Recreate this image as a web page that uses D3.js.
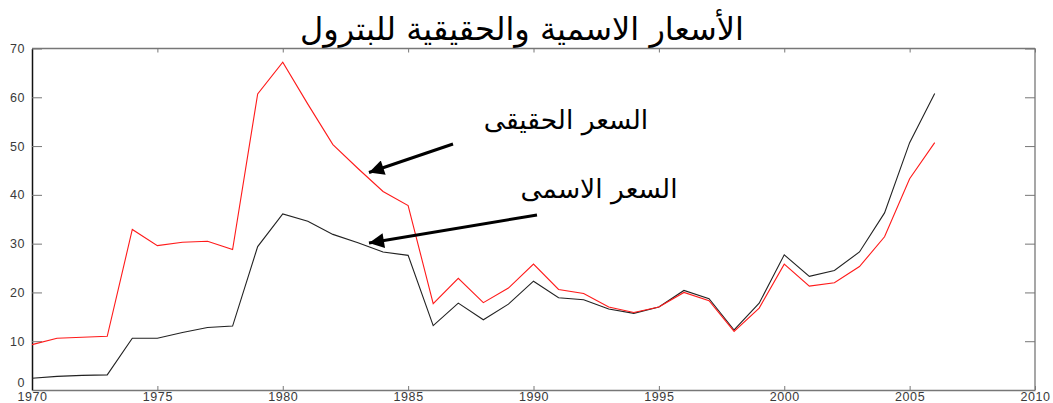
<!DOCTYPE html>
<html>
<head>
<meta charset="utf-8">
<script src="https://cdn.jsdelivr.net/npm/d3@7/dist/d3.min.js"></script>
<style>
html,body{margin:0;padding:0;background:#fff;}
svg{display:block;}
</style>
</head>
<body>
<svg id="chart" width="1053" height="403"></svg>
<script>
const title = "الأسعار الاسمية والحقيقية للبترول";
const years = [1970,1971,1972,1973,1974,1975,1976,1977,1978,1979,1980,1981,1982,1983,1984,1985,1986,1987,1988,1989,1990,1991,1992,1993,1994,1995,1996,1997,1998,1999,2000,2001,2002,2003,2004,2005,2006];
const realPrice = [9.3,10.6,10.8,11.0,32.9,29.6,30.3,30.5,28.8,60.7,67.2,58.6,50.3,45.4,40.7,37.8,17.7,22.9,17.9,20.9,25.8,20.6,19.8,17.0,15.9,17.0,20.0,18.3,12.0,16.8,25.8,21.3,22.0,25.3,31.4,43.3,50.7];
const nominalPrice = [2.4,2.8,3.0,3.1,10.6,10.6,11.8,12.8,13.1,29.4,36.1,34.6,31.9,30.2,28.3,27.6,13.2,17.8,14.4,17.6,22.3,18.9,18.5,16.6,15.7,17.0,20.4,18.7,12.3,17.8,27.7,23.3,24.5,28.3,36.3,50.7,60.8];
const xTicks = [1970,1975,1980,1985,1990,1995,2000,2005,2010];
const yTicks = [0,10,20,30,40,50,60,70];
const labelReal = "السعر الحقيقى";
const labelNominal = "السعر الاسمى";

const svg = d3.select("#chart");
const L = 32, R = 1035, T = 48.5, B = 390;
const x = d3.scaleLinear().domain([1970,2010]).range([L,R]);
const y = d3.scaleLinear().domain([0,70]).range([B,T]);

const axisColor = "#777";
const labelColor = "#3a3a3a";
const tickFont = "Liberation Sans, Arial, sans-serif";

// frame
svg.append("line").attr("x1",L).attr("x2",R).attr("y1",T).attr("y2",T).attr("stroke",axisColor).attr("stroke-width",1.3);
svg.append("line").attr("x1",R).attr("x2",R).attr("y1",T).attr("y2",B).attr("stroke",axisColor).attr("stroke-width",1.3);

// axes
const xAxis = d3.axisBottom(x).tickValues(xTicks).tickFormat(d3.format("d")).tickSizeInner(-4).tickSizeOuter(0).tickPadding(3);
const gx = svg.append("g").attr("transform",`translate(0,${B})`).call(xAxis);
gx.select(".domain").attr("stroke",axisColor).attr("stroke-width",1.3);
gx.selectAll(".tick line").attr("stroke",axisColor);
gx.selectAll(".tick text").attr("fill",labelColor).attr("font-family",tickFont).attr("font-size",12.5)
  .attr("letter-spacing","0.6px").attr("dy","0.6em");

const xAxisTop = d3.axisTop(x).tickValues(xTicks).tickFormat("").tickSizeInner(-4).tickSizeOuter(0);
const gxt = svg.append("g").attr("transform",`translate(0,${T})`).call(xAxisTop);
gxt.select(".domain").remove();
gxt.selectAll(".tick line").attr("stroke",axisColor);

const yAxis = d3.axisLeft(y).tickValues(yTicks).tickSizeInner(-10).tickSizeOuter(0).tickPadding(7);
const gy = svg.append("g").attr("transform",`translate(${L},0)`).call(yAxis);
gy.select(".domain").attr("stroke","#111").attr("stroke-width",1.5);
gy.selectAll(".tick line").attr("stroke",axisColor);
gy.selectAll(".tick text").attr("fill",labelColor).attr("font-family",tickFont).attr("font-size",12.5)
  .attr("letter-spacing","0.6px");
gy.selectAll(".tick").filter(d=>d===0).select("text").attr("dy","-0.3em");

const yAxisR = d3.axisRight(y).tickValues(yTicks).tickFormat("").tickSizeInner(-10).tickSizeOuter(0);
const gyr = svg.append("g").attr("transform",`translate(${R},0)`).call(yAxisR);
gyr.select(".domain").remove();
gyr.selectAll(".tick line").attr("stroke",axisColor);

// lines
const line = d3.line().x((d,i)=>x(years[i])).y(d=>y(d));
svg.append("path").datum(nominalPrice).attr("d",line).attr("fill","none").attr("stroke","#222").attr("stroke-width",1.1);
svg.append("path").datum(realPrice).attr("d",line).attr("fill","none").attr("stroke","#ff1a1a").attr("stroke-width",1.1);

// title
svg.append("text").attr("x",522).attr("y",40).attr("text-anchor","middle")
  .attr("font-family","DejaVu Sans, sans-serif").attr("font-size",32).attr("fill","#000").attr("direction","rtl")
  .text(title);

// annotations
svg.append("defs").append("marker").attr("id","arrow").attr("viewBox","0 0 10 10").attr("refX",10).attr("refY",5)
  .attr("markerWidth",5.5).attr("markerHeight",5).attr("markerUnits","strokeWidth").attr("orient","auto")
  .append("path").attr("d","M0,0 L10,5 L0,10 Z").attr("fill","#000");

svg.append("line").attr("x1",453).attr("y1",144).attr("x2",369).attr("y2",172.5).attr("stroke","#000").attr("stroke-width",3).attr("marker-end","url(#arrow)");
svg.append("line").attr("x1",537).attr("y1",215).attr("x2",369).attr("y2",243).attr("stroke","#000").attr("stroke-width",3).attr("marker-end","url(#arrow)");

svg.append("text").attr("x",566).attr("y",129).attr("text-anchor","middle")
  .attr("font-family","DejaVu Sans, sans-serif").attr("font-size",26.5).attr("fill","#000").attr("direction","rtl")
  .text(labelReal);
svg.append("text").attr("x",599).attr("y",198).attr("text-anchor","middle")
  .attr("font-family","DejaVu Sans, sans-serif").attr("font-size",26.5).attr("fill","#000").attr("direction","rtl")
  .text(labelNominal);
</script>
</body>
</html>
